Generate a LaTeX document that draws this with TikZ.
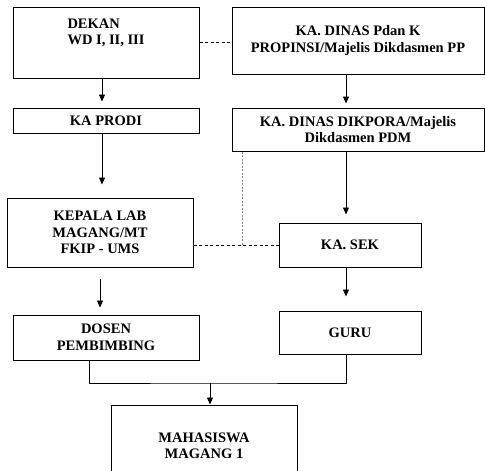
\documentclass[tikz,border=0pt]{standalone}
\usepackage{fontspec}
\setmainfont{Liberation Serif}
\usetikzlibrary{arrows.meta}

\begin{document}
\begin{tikzpicture}[x=1pt,y=-1pt,
    box/.style={draw,line width=1pt,align=center,inner sep=0pt,font=\bfseries\fontsize{14.5}{16.5}\selectfont},
    arr/.style={-{Triangle[width=6pt,length=7pt]},line width=0.9pt},
    link/.style={dash pattern=on 3pt off 2.5pt,line width=0.9pt},
    dot/.style={gray,dash pattern=on 2pt off 1.5pt,line width=1pt}]
  \useasboundingbox (0,0) rectangle (485,471);
  \clip (0,0) rectangle (485,471);
  % left column
  \node[box,minimum width=186pt,minimum height=71pt,align=left] (dekan) at (106,42.5) {DEKAN\\ WD I, II, III\\ \strut};
  \node[box,minimum width=186pt,minimum height=25pt] (prodi) at (106,120.5) {KA PRODI};
  \node[box,minimum width=186pt,minimum height=69pt] (lab) at (100,232.5) {KEPALA LAB\\ MAGANG/MT\\ FKIP - UMS};
  \node[box,minimum width=186pt,minimum height=45pt] (dosen) at (106,337.5) {DOSEN\\ PEMBIMBING};
  % right column
  \node[box,minimum width=252pt,minimum height=67pt] (dinas) at (358,40.5) {KA. DINAS Pdan K\\ PROPINSI/Majelis Dikdasmen PP};
  \node[box,minimum width=252pt,minimum height=43pt] (dikpora) at (358,129.5) {KA. DINAS DIKPORA/Majelis\\ Dikdasmen PDM};
  \node[box,minimum width=142pt,minimum height=44pt] (kasek) at (350,245) {KA. SEK};
  \node[box,minimum width=142pt,minimum height=43pt] (guru) at (350,332.5) {GURU};
  % bottom
  \node[box,minimum width=186pt,minimum height=82pt] (mhs) at (204,446) {MAHASISWA\\ MAGANG 1};

  \draw[arr,shorten >=6pt] ([xshift=-4pt]dekan.south) -- ([xshift=-4pt]prodi.north);
  \draw[arr,shorten >=13pt] ([xshift=-4pt]prodi.south) -- ([xshift=2pt]lab.north);
  \draw[arr,shorten <=11pt,shorten >=7pt] (lab.south) -- ([xshift=-6pt]dosen.north);
  \draw[arr,shorten >=4pt] ([xshift=-12pt]dinas.south) -- ([xshift=-12pt]dikpora.north);
  \draw[arr,shorten >=8pt] ([xshift=-12pt]dikpora.south) -- ([xshift=-4pt]kasek.north);
  \draw[arr,shorten >=14pt] ([xshift=-4pt]kasek.south) -- ([xshift=-4pt]guru.north);

  \draw[link] (dekan.east) -- (dekan.east -| dinas.west);
  \draw[link] (lab.east |- kasek.west) -- (kasek.west);
  \coordinate (meet) at (242,245);
  \draw[dot] (meet |- dikpora.south) -- (meet);

  \coordinate (join) at (210,383);
  \draw[line width=0.9pt] ([xshift=-17pt]dosen.south) |- (join) -| ([xshift=-4pt]guru.south);
  \draw[arr] (join) -- (join |- mhs.north);
\end{tikzpicture}
\end{document}
